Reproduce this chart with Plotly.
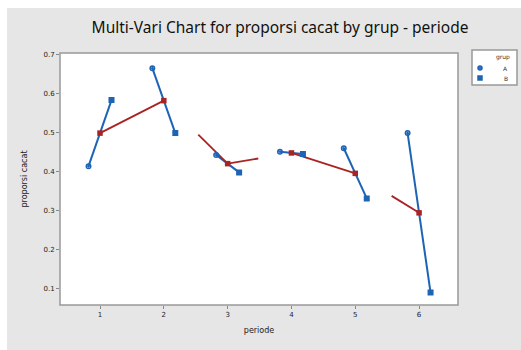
import plotly.graph_objects as go

# Multi-vari data: proportion of defects per period, split by group
periode = [1, 2, 3, 4, 5, 6]
grup_labels = ["A", "B"]
grup_a = [0.414, 0.666, 0.443, 0.451, 0.460, 0.499]
grup_b = [0.584, 0.499, 0.398, 0.445, 0.331, 0.089]
y_ticks = [0.1, 0.2, 0.3, 0.4, 0.5, 0.6, 0.7]

# drawn portion (start, end fraction) of each mean-to-mean connector
mean_spans = [(0.0, 1.0), (0.54, 1.0), (0.0, 0.48), (0.0, 1.0), (0.57, 1.0)]

OFFSET = 0.18
BLUE = "rgb(30,100,180)"
RED = "rgb(170,35,35)"
FONT = "DejaVu Sans"

W, H = 521, 350
L, R, T, B = 60, 4, 53, 45
PW, PH = W - L - R, H - T - B          # plotting area in pixels
PLOT_RIGHT = 458                        # right edge of the data panel
LEG = dict(x0=472, x1=517, y0=50, y1=85)


def px_x(x):
    return (x - L) / PW


def px_y(y):
    return (H - B - y) / PH


means = [(a + b) / 2 for a, b in zip(grup_a, grup_b)]
symbols = ["circle-open-dot", "square"]

fig = go.Figure()

# grey panel behind the whole chart
fig.add_shape(type="rect", xref="paper", yref="paper",
              x0=px_x(7), x1=px_x(W), y0=px_y(H), y1=px_y(8),
              fillcolor="rgb(230,230,230)", line=dict(width=0), layer="below")
# white data panel
fig.add_shape(type="rect", xref="paper", yref="paper",
              x0=0, x1=px_x(PLOT_RIGHT), y0=0, y1=1,
              fillcolor="white", line=dict(width=1.5, color="#999"), layer="below")
# legend box
fig.add_shape(type="rect", xref="paper", yref="paper",
              x0=px_x(LEG["x0"]), x1=px_x(LEG["x1"]), y0=px_y(LEG["y1"]), y1=px_y(LEG["y0"]),
              fillcolor="white", line=dict(width=1.5, color="#999"), layer="below")

# blue lines linking the two groups inside each period
lx, ly = [], []
for p, a, b in zip(periode, grup_a, grup_b):
    lx += [p - OFFSET, p + OFFSET, None]
    ly += [a, b, None]
fig.add_trace(go.Scatter(x=lx, y=ly, mode="lines", line=dict(color=BLUE, width=2),
                         hoverinfo="skip"))

# red connector between period means
mx, my = [], []
for i, (s, e) in enumerate(mean_spans):
    x0, x1 = periode[i], periode[i + 1]
    y0, y1 = means[i], means[i + 1]
    mx += [x0 + s * (x1 - x0), x0 + e * (x1 - x0), None]
    my += [y0 + s * (y1 - y0), y0 + e * (y1 - y0), None]
fig.add_trace(go.Scatter(x=mx, y=my, mode="lines", line=dict(color=RED, width=1.8),
                         hoverinfo="skip"))
fig.add_trace(go.Scatter(x=periode, y=means, mode="markers",
                         marker=dict(symbol="square", size=5.5, color=RED),
                         hoverinfo="skip"))

for k, (vals, off) in enumerate([(grup_a, -OFFSET), (grup_b, OFFSET)]):
    fig.add_trace(go.Scatter(x=[p + off for p in periode], y=vals, mode="markers",
                             name=grup_labels[k],
                             marker=dict(symbol=symbols[k], size=4.5, color=BLUE,
                                         line=dict(width=1.5, color=BLUE))))

# compact legend drawn on its own small axis pair
leg_rows = [68, 78]
fig.add_trace(go.Scatter(x=[(480 - LEG["x0"]) / (LEG["x1"] - LEG["x0"])] * 2,
                         y=[px_y(r) for r in leg_rows], mode="markers",
                         xaxis="x2", yaxis="y2", hoverinfo="skip",
                         marker=dict(symbol=symbols, size=4, color=BLUE,
                                     line=dict(width=1.5, color=BLUE))))
fig.add_annotation(text="grup", xref="paper", yref="paper", x=px_x(512), y=px_y(57),
                   xanchor="right", yanchor="middle", showarrow=False,
                   font=dict(size=6, color="#333"))
for lab, r in zip(grup_labels, leg_rows):
    fig.add_annotation(text=lab, xref="paper", yref="paper", x=px_x(510), y=px_y(r),
                       xanchor="right", yanchor="middle", showarrow=False,
                       font=dict(size=6, color="#333"))

fig.update_layout(
    width=W, height=H, showlegend=False,
    margin=dict(l=L, r=R, t=T, b=B),
    paper_bgcolor="white", plot_bgcolor="rgba(0,0,0,0)",
    font=dict(family=FONT, color="#222"),
    title=dict(text="Multi-Vari Chart for proporsi cacat by grup - periode",
               x=280 / W, xanchor="center", y=1 - 28 / H, yanchor="middle",
               font=dict(size=15.5, family="Noto Sans", color="#111")),
    xaxis=dict(domain=[0, px_x(PLOT_RIGHT)], range=[0.373, 6.61], tickvals=periode,
               ticks="outside", ticklen=3, tickcolor="#888", showgrid=False,
               zeroline=False, showline=False,
               tickfont=dict(size=7, color="#222"),
               title=dict(text="periode", font=dict(size=8, color="#222"), standoff=8)),
    yaxis=dict(range=[0.057, 0.705], tickvals=y_ticks, tickformat=".1f",
               ticks="outside", ticklen=3, tickcolor="#888",
               showgrid=False, zeroline=False, showline=False,
               tickfont=dict(size=7, color="#222"),
               title=dict(text="proporsi cacat", font=dict(size=8, color="#222"), standoff=14)),
    xaxis2=dict(domain=[px_x(LEG["x0"]), px_x(LEG["x1"])], range=[0, 1], visible=False,
                anchor="y2"),
    yaxis2=dict(domain=[0, 1], range=[0, 1], visible=False, anchor="x2"),
)

fig.write_html("out.html")
